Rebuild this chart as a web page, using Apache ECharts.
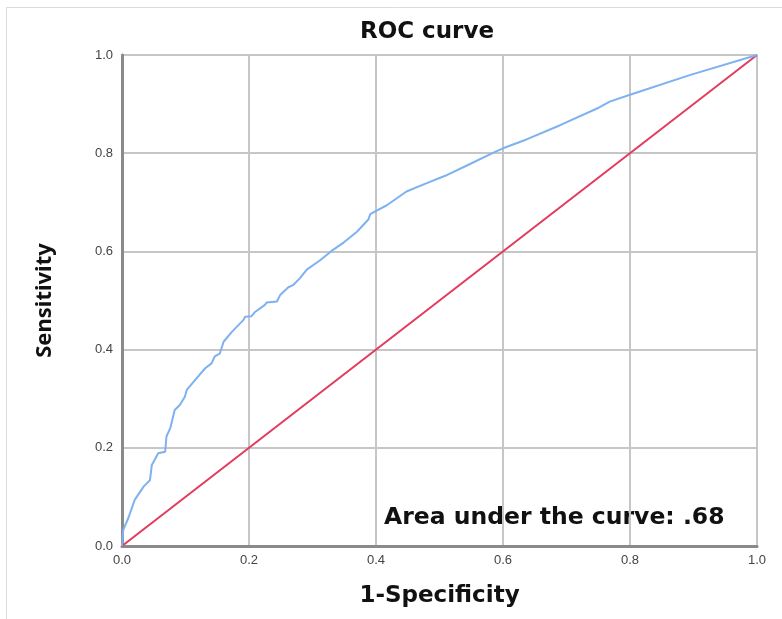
<!DOCTYPE html>
<html><head><meta charset="utf-8">
<script src="https://cdn.jsdelivr.net/npm/echarts@6/dist/echarts.min.js"></script>
<style>html,body{margin:0;padding:0;background:#fff}#c{width:782px;height:619px}</style>
</head><body><div id="c"></div>
<script>
const tickLabels = ['0.0','0.2','0.4','0.6','0.8','1.0'];
const fpr = [0,0.002,0.01,0.02,0.034,0.044,0.047,0.057,0.068,0.070,0.076,0.083,0.091,0.099,0.102,0.115,0.131,0.141,0.146,0.154,0.160,0.173,0.191,0.194,0.204,0.209,0.225,0.228,0.244,0.249,0.262,0.270,0.280,0.291,0.312,0.330,0.349,0.370,0.388,0.391,0.398,0.417,0.448,0.480,0.509,0.548,0.585,0.600,0.637,0.690,0.748,0.768,0.800,0.894,1.0];
const tpr = [0,0.033,0.057,0.094,0.121,0.134,0.165,0.189,0.192,0.223,0.240,0.277,0.287,0.304,0.318,0.338,0.362,0.372,0.386,0.392,0.416,0.436,0.460,0.467,0.468,0.476,0.491,0.496,0.498,0.511,0.527,0.532,0.545,0.563,0.582,0.601,0.618,0.640,0.665,0.676,0.681,0.694,0.722,0.739,0.754,0.778,0.801,0.810,0.828,0.857,0.891,0.905,0.919,0.959,1.0];
const refX = [0,1];
const refY = [0,1];
const aucText = 'Area under the curve: .68';

const chart = echarts.init(document.getElementById('c'), null, {renderer:'canvas'});
const wide = '"DejaVu Sans", sans-serif';
chart.setOption({
  animation:false,
  backgroundColor:'#fff',
  title:{text:'ROC curve', left:422, top:16, textAlign:'center',
    textStyle:{fontFamily:wide, fontWeight:'bold', fontSize:23, color:'#111'}},
  grid:{left:122, right:25, top:55, bottom:73, show:true, borderColor:'#dedede', borderWidth:2},
  xAxis:{type:'value', min:0, max:1, interval:0.2,
    name:'1-Specificity', nameLocation:'middle', nameGap:39,
    nameTextStyle:{fontFamily:wide, fontWeight:'bold', fontSize:23, color:'#111'},
    axisLine:{show:true, lineStyle:{color:'#8a8a8a', width:3}},
    axisTick:{show:false},
    splitLine:{show:true, lineStyle:{color:'#c6c6c6', width:2}},
    axisLabel:{margin:8, fontFamily:'"Liberation Sans", Arial, sans-serif', fontSize:13, color:'#444',
      formatter:(v)=>tickLabels[Math.round(v*5)]}},
  yAxis:{type:'value', min:0, max:1, interval:0.2,
    name:'Sensitivity', nameLocation:'middle', nameGap:66,
    nameTextStyle:{fontFamily:'"Noto Sans", sans-serif', fontWeight:'bold', fontSize:22, color:'#111'},
    axisLine:{show:true, lineStyle:{color:'#8a8a8a', width:3}},
    axisTick:{show:false},
    splitLine:{show:true, lineStyle:{color:'#c6c6c6', width:2}},
    axisLabel:{margin:9, fontFamily:'"Liberation Sans", Arial, sans-serif', fontSize:13, color:'#444',
      formatter:(v)=>tickLabels[Math.round(v*5)]}},
  graphic:[
    {type:'rect', left:4, top:5, shape:{width:800, height:640}, style:{fill:'none', stroke:'#dcdcdc', lineWidth:1}, z:-1, silent:true},
    {type:'text', x:384, y:518, style:{text:aucText, font:'bold 23.5px "DejaVu Sans", sans-serif', fill:'#111', verticalAlign:'middle'}}
  ],
  series:[
    {type:'line', data:refX.map((x,i)=>[x,refY[i]]), showSymbol:false, symbol:'none',
      lineStyle:{color:'#e33a5e', width:2}, z:3},
    {type:'line', data:fpr.map((x,i)=>[x,tpr[i]]), showSymbol:false, symbol:'none',
      lineStyle:{color:'#7fb1f0', width:2}, z:4}
  ]
});
</script></body></html>
